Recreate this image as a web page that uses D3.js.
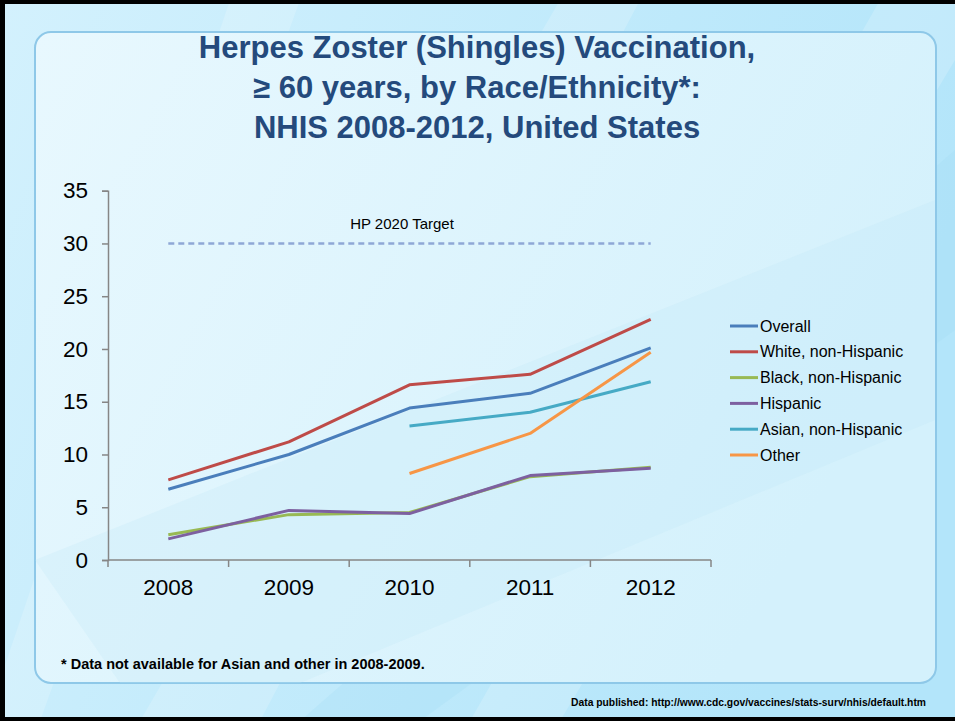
<!DOCTYPE html>
<html><head><meta charset="utf-8">
<script src="https://cdn.jsdelivr.net/npm/d3@7"></script>
<style>body{margin:0;padding:0;overflow:hidden}svg{display:block}</style>
</head><body>
<script>
const years = ["2008","2009","2010","2011","2012"];
const seriesNames = ["Overall","White, non-Hispanic","Black, non-Hispanic","Hispanic","Asian, non-Hispanic","Other"];
const seriesColors = ["#4A7EBB","#BE4B48","#98B954","#7D60A0","#46AAC5","#F79646"];
const overall  = [6.7, 10.0, 14.4, 15.8, 20.1];
const white    = [7.6, 11.2, 16.6, 17.6, 22.8];
const black    = [2.4, 4.3, 4.5, 7.9, 8.8];
const hispanic = [2.0, 4.7, 4.4, 8.0, 8.7];
const asian    = [null, null, 12.7, 14.0, 16.9];
const other    = [null, null, 8.2, 12.0, 19.7];
const yTicks = [0,5,10,15,20,25,30,35];
const target = 30;
const titleLines = ["Herpes Zoster (Shingles) Vaccination,","\u2265 60 years, by Race/Ethnicity*:","NHIS 2008-2012, United States"];

const W=955,H=721;
const FONT="Liberation Sans, Arial, sans-serif";
const svg=d3.select("body").append("svg").attr("width",W).attr("height",H);
const defs=svg.append("defs");
const g1=defs.append("linearGradient").attr("id","bg").attr("x1","0").attr("y1","0").attr("x2","1").attr("y2","0.3");
g1.append("stop").attr("offset","0").attr("stop-color","#d3f1fd");
g1.append("stop").attr("offset","1").attr("stop-color","#b3e5fa");
const g2=defs.append("linearGradient").attr("id","panel").attr("x1","0").attr("y1","0").attr("x2","1").attr("y2","0.4");
g2.append("stop").attr("offset","0").attr("stop-color","#e8f8fe");
g2.append("stop").attr("offset","1").attr("stop-color","#d4f1fc");

svg.append("rect").attr("width",W).attr("height",H).attr("fill","url(#bg)");
const stripes=[[[230,0],[300,0],[40,721],[0,721],[0,680]],[[560,0],[640,0],[260,721],[140,721]],[[880,0],[955,0],[955,60],[560,721],[470,721]]];
stripes.forEach(p=>svg.append("path").attr("d",d3.line()(p)+"Z").attr("fill","#ffffff").attr("opacity",0.18));
svg.append("path").attr("d",d3.line()([[955,150],[955,330],[420,721],[300,721]])+"Z").attr("fill","#9fdcf5").attr("opacity",0.25);

svg.append("rect").attr("x",35).attr("y",32).attr("width",901).attr("height",651).attr("rx",16)
  .attr("fill","url(#panel)").attr("stroke","#8ec8e8").attr("stroke-width",2);
svg.append("path").attr("d",d3.line()([[35,560],[935,200],[935,420],[300,683],[120,683]])+"Z").attr("fill","#bfe9f9").attr("opacity",0.25);

svg.append("rect").attr("x",0).attr("y",0).attr("width",W).attr("height",4).attr("fill","#000");
svg.append("rect").attr("x",0).attr("y",0).attr("width",5).attr("height",H).attr("fill","#000");
svg.append("rect").attr("x",0).attr("y",717).attr("width",W).attr("height",4).attr("fill","#000");

const title=svg.append("text").attr("text-anchor","middle").attr("font-family",FONT)
  .attr("font-weight","bold").attr("font-size",31).attr("fill","#244a7c");
titleLines.forEach((t,i)=>title.append("tspan").attr("x",477).attr("y",58+i*40).text(t));

const x=d3.scaleBand().domain(years).range([108,711]);
const y=d3.scaleLinear().domain([0,35]).range([560,190.7]);

const yAxis=svg.append("g").attr("transform","translate(108,0)")
  .call(d3.axisLeft(y).tickValues(yTicks).tickSize(6).tickPadding(14).tickFormat(d3.format("d")));
const xAxis=svg.append("g").attr("transform","translate(0,560)")
  .call(d3.axisBottom(x).tickSize(0).tickPadding(19));
[yAxis,xAxis].forEach(a=>{
  a.select(".domain").attr("stroke","#868686").attr("stroke-width",1.5);
  a.selectAll(".tick line").attr("stroke","#868686").attr("stroke-width",1.5);
  a.selectAll("text").attr("font-family",FONT).attr("font-size",22.5).attr("fill","#000");
});
const bounds=years.map(d=>x(d)).concat([x.range()[1]]);
svg.append("g").selectAll("line").data(bounds).join("line")
  .attr("x1",d=>d).attr("x2",d=>d).attr("y1",560).attr("y2",567).attr("stroke","#868686").attr("stroke-width",1.5);
xAxis.selectAll(".domain").attr("d",`M108,0H711`);
xAxis.selectAll(".tick text").attr("dy","0.71em");

const cx=d=>x(d)+x.bandwidth()/2;
svg.append("line").attr("x1",cx(years[0])).attr("x2",cx(years[years.length-1]))
  .attr("y1",y(target)).attr("y2",y(target)).attr("stroke","#8fa8d6").attr("stroke-width",2.5).attr("stroke-dasharray","6,4");
svg.append("text").attr("x",402).attr("y",y(target)-14).attr("text-anchor","middle")
  .attr("font-family",FONT).attr("font-size",15).attr("fill","#000").text("HP 2020 Target");

const data=[overall,white,black,hispanic,asian,other];
const line=d3.line().defined(d=>d.v!=null).x(d=>cx(d.year)).y(d=>y(d.v));
data.forEach((s,i)=>{
  svg.append("path").datum(years.map((yr,j)=>({year:yr,v:s[j]})))
    .attr("d",line).attr("fill","none").attr("stroke",seriesColors[i]).attr("stroke-width",3).attr("stroke-linejoin","round");
});

const lg=svg.append("g").attr("transform","translate(730,326)");
seriesNames.forEach((n,i)=>{
  const r=lg.append("g").attr("transform",`translate(0,${i*25.8})`);
  r.append("line").attr("x1",0).attr("x2",28).attr("stroke",seriesColors[i]).attr("stroke-width",3);
  r.append("text").attr("x",30).attr("y",5.5).attr("font-family",FONT).attr("font-size",16).attr("fill","#000").text(n);
});

svg.append("text").attr("x",61).attr("y",669).attr("font-family",FONT).attr("font-weight","bold")
  .attr("font-size",14.5).attr("fill","#000").text("* Data not available for Asian and other in 2008-2009.");
svg.append("text").attr("x",926).attr("y",706).attr("text-anchor","end").attr("font-family",FONT).attr("font-weight","bold")
  .attr("font-size",10.3).attr("fill","#000").text("Data published:  http://www.cdc.gov/vaccines/stats-surv/nhis/default.htm");
</script>
</body></html>
